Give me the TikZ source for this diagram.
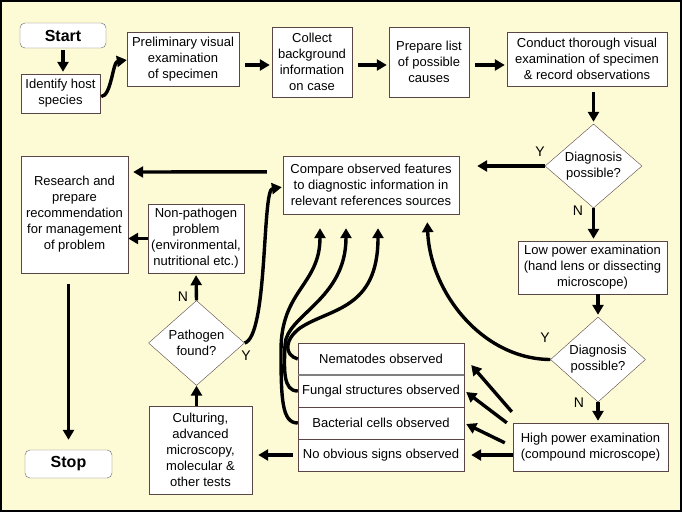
\documentclass[tikz,border=0pt]{standalone}
\usepackage{fontspec}
\setmainfont{Liberation Sans}
\usetikzlibrary{shapes.geometric,arrows.meta}
\definecolor{pagebg}{RGB}{253,251,214}
\definecolor{boxline}{RGB}{90,70,70}
\tikzset{
  flowbox/.style = {draw=boxline, fill=white, align=center, inner sep=1pt, font=\fontsize{13}{16}\selectfont},
  term_box/.style = {flowbox, draw=gray!80!black, rounded corners=5pt, font=\fontsize{16}{18}\selectfont\bfseries},
  decision/.style = {flowbox, diamond, inner sep=-6pt, minimum width=96pt, minimum height=84pt},
  obs_row/.style = {flowbox, minimum width=166pt, minimum height=32pt},
  yn_label/.style = {font=\fontsize{14}{16}\selectfont},
  flow/.style = {line width=3.4pt, -{Triangle[length=10pt,width=11pt]}, shorten <=6pt, shorten >=2pt}
}
\begin{document}
\begin{tikzpicture}[x=1pt, y=-1pt]
  \useasboundingbox (0,0) rectangle (682,512);
  \draw[fill=pagebg, line width=2pt] (1,1) rectangle (681,511);

  \node[term_box, minimum width=86pt, minimum height=25pt] (start) at (63,35.5) {Start};
  \node[flowbox, minimum width=79pt, minimum height=39pt] (host) at (60.5,93.5) {Identify host\\species};
  \node[flowbox, minimum width=112pt, minimum height=54pt] (prelim) at (183,59) {Preliminary visual\\examination\\of specimen};
  \node[flowbox, minimum width=80pt, minimum height=70pt] (backgr) at (312,62) {Collect\\background\\information\\on case};
  \node[flowbox, minimum width=80pt, minimum height=70pt] (causes) at (429,62) {Prepare list\\of possible\\causes};
  \node[flowbox, minimum width=160pt, minimum height=54pt] (conduct) at (587,59) {Conduct thorough visual\\examination of specimen\\\& record observations};
  \node[decision, minimum width=97pt] (diag_a) at (593.5,166) {Diagnosis\\possible?};
  \node[flowbox, minimum width=176pt, minimum height=58pt] (compare) at (371,185) {Compare observed features\\to diagnostic information in\\relevant references sources};
  \node[flowbox, minimum width=107pt, minimum height=117pt] (research) at (74.5,214.5) {Research and\\prepare\\recommendation\\for management\\of problem};
  \node[flowbox, minimum width=96pt, minimum height=69pt] (nonpath) at (196,238.5) {Non-pathogen\\problem\\(environmental,\\nutritional etc.)};
  \node[decision, minimum width=96pt, minimum height=85pt] (pathogen) at (196.5,343) {Pathogen\\found?};
  \node[flowbox, minimum width=149pt, minimum height=53pt] (lowpow) at (592.5,267.5) {Low power examination\\(hand lens or dissecting\\microscope)};
  \node[decision, minimum width=95pt, minimum height=85pt] (diag_b) at (598,359.5) {Diagnosis\\possible?};
  \node[flowbox, minimum width=155pt, minimum height=48pt] (highpow) at (590.5,447) {High power examination\\(compound microscope)};
  \node[obs_row] (nema) at (381,359) {Nematodes observed};
  \node[obs_row] (fungal) at (381,391) {Fungal structures observed};
  \node[obs_row] (bact) at (381,423) {Bacterial cells observed};
  \node[obs_row] (noobv) at (381,455) {No obvious signs observed};
  \draw[gray, line width=1.5pt] (nema.south west) -- (nema.south east);
  \node[flowbox, minimum width=103pt, minimum height=88pt] (culture) at (200.5,450) {Culturing,\\advanced\\microscopy,\\molecular \&\\other tests};
  \node[term_box, minimum width=87pt, minimum height=28pt] (stop) at (68.5,464) {Stop};

  \node[yn_label] (y_a) at (540,152) {Y};
  \node[yn_label] (n_a) at (578,211) {N};
  \node[yn_label] (y_b) at (545,338) {Y};
  \node[yn_label] (n_b) at (579,403) {N};
  \node[yn_label] (n_c) at (183,297) {N};
  \node[yn_label] (y_c) at (246,356) {Y};

  \draw[flow, shorten <=2pt] (start.south) -- (start.south |- host.north);
  \draw[flow, shorten <=1pt, shorten >=0pt] ([yshift=-3pt]host.east) .. controls +(11,0) and +(-14,2) .. ([yshift=-1pt]prelim.west);
  \draw[flow] ([yshift=-6pt]prelim.east) -- ([yshift=-3pt]backgr.west);
  \draw[flow] ([yshift=-3pt]backgr.east) -- ([yshift=-3pt]causes.west);
  \draw[flow] ([yshift=-3pt]causes.east) -- ([yshift=-6pt]conduct.west);
  \draw[flow] (diag_a |- conduct.south) -- (diag_a.north);
  \draw[flow, shorten <=0pt, shorten >=18pt] (diag_a.west) -- (compare.east |- diag_a.west);
  \draw[flow, shorten <=0pt] (diag_a.south) -- (diag_a.south |- lowpow.north);
  \draw[flow, shorten <=16pt, shorten >=5pt] ([yshift=-16pt]compare.north west) -- (research.east |- 0,172);
  \draw[flow, shorten <=0pt] (diag_b |- lowpow.south) -- (diag_b.north);
  \draw[flow, shorten <=0pt] (diag_b.south) -- (diag_b.south |- highpow.north);
  \draw[flow, shorten <=0pt, shorten >=8pt] (diag_b.west) .. controls (482,359) and (430,292) .. ([xshift=56pt]compare.south);
  \draw[flow, shorten <=0pt, shorten >=0pt] ([shift={(-1pt,11pt)}]highpow.north west) -- ([shift={(7pt,-6pt)}]nema.east);
  \draw[flow, shorten <=0pt, shorten >=0pt] ([shift={(-6pt,0pt)}]highpow.north west) -- ([shift={(2pt,-1pt)}]fungal.east);
  \draw[flow, shorten <=0pt, shorten >=0pt] ([shift={(-8pt,-20pt)}]highpow.north west) -- ([shift={(2pt,-1pt)}]bact.east);
  \draw[flow, shorten <=0pt, shorten >=7pt] (highpow.west |- noobv.east) -- (noobv.east);
  \draw[flow, shorten <=0pt, shorten >=14pt] (nema.west) .. controls (284,355) and (284,340) .. (300,328) .. controls (330,308) and (378,310) .. ([xshift=7pt]compare.south);
  \draw[flow, shorten <=0pt, shorten >=14pt] (fungal.west) .. controls (283,391) and (284,370) .. (285,345) .. controls (286,315) and (346,300) .. ([xshift=-25pt]compare.south);
  \draw[flow, shorten <=0pt, shorten >=14pt] (bact.west) .. controls (282,423) and (281,400) .. (281,350) .. controls (281,290) and (320,285) .. ([xshift=-51pt]compare.south);
  \draw[flow, shorten <=5pt, shorten >=6pt] (noobv.west) -- (culture.east |- noobv.west);
  \draw[flow, shorten <=0pt, shorten >=0pt] (pathogen |- culture.north) -- (pathogen.south);
  \draw[flow, shorten <=0pt] (pathogen.north) -- (nonpath.south);
  \draw[flow, shorten <=0pt, shorten >=1pt] (pathogen.east) .. controls (268,336) and (262,190) .. ([yshift=-2pt]compare.west);
  \draw[flow, shorten <=0pt, shorten >=0pt] (nonpath.west) -- (research.east |- nonpath.west);
  \draw[flow, shorten <=11pt, shorten >=10pt] (stop |- research.south) -- (stop.north);
\end{tikzpicture}
\end{document}
